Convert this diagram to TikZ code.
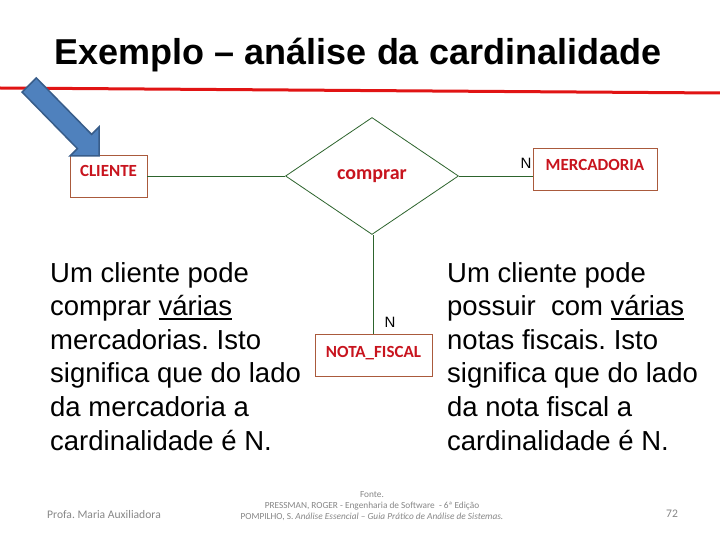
\documentclass[tikz,border=0pt]{standalone}
\usepackage{fontspec}
\setmainfont{Liberation Sans}
\newfontfamily\carl{Carlito}
\usetikzlibrary{shapes.geometric}
\definecolor{entred}{RGB}{200,20,30}
\definecolor{boxcol}{RGB}{170,90,60}
\definecolor{conncol}{RGB}{45,100,45}
\definecolor{linered}{RGB}{225,20,20}
\definecolor{arrfill}{RGB}{79,129,189}
\definecolor{arrdraw}{RGB}{56,93,138}
\definecolor{footgray}{RGB}{135,135,135}
\frenchspacing
\newcommand{\thickul}[1]{\setbox0\hbox{#1}\rlap{\rule[-3.8pt]{\wd0}{2pt}}\box0}
\tikzset{
  entity/.style={draw=boxcol, line width=0.9pt, fill=white, inner sep=0pt,
    minimum height=42pt, text=entred, font=\carl\bfseries\fontsize{17}{19}\selectfont,
    text height=11pt, text depth=9pt},
  rel/.style={diamond, draw=conncol, line width=0.8pt, inner sep=0pt,
    minimum width=173pt, minimum height=117pt, text=entred,
    font=\carl\bfseries\fontsize{20}{22}\selectfont},
  conn/.style={draw=conncol, line width=0.8pt},
  card/.style={inner sep=0pt, font=\fontsize{15}{17}\selectfont},
  body/.style={align=left, inner sep=0pt, anchor=north west, font=\fontsize{27.5}{33.6}\selectfont},
  foot/.style={text=footgray, inner sep=0pt, font=\carl\fontsize{11.6}{13}\selectfont},
  src/.style={text=footgray, inner sep=0pt, align=center, font=\carl\fontsize{9.3}{11}\selectfont}
}
\begin{document}
\begin{tikzpicture}[x=1pt,y=-1pt]
\useasboundingbox[fill=white] (0,0) rectangle (720,540);
% title
\node[anchor=base, inner sep=0pt, font=\bfseries\fontsize{36}{40}\selectfont] (title) at (358,65) {Exemplo – análise da cardinalidade};
% red rule
\coordinate (rl) at (0,88);
\coordinate (rr) at (720,93);
\draw[linered, line width=3pt] (rl) -- (rr);
% entities
\node[entity, minimum width=77pt] (cliente) at (108.5,176) {CLIENTE};
\node[entity, minimum width=124pt] (merc) at (595,169.5) {MERCADORIA};
\node[entity, minimum width=117pt, text depth=7pt, text height=11pt] (nota) at (373.5,355) {NOTA\_FISCAL};
\node[rel] (comprar) at (372,176) {comprar};
% connectors
\draw[conn] (cliente.east) -- (comprar.west);
\draw[conn] (comprar.east) -- (comprar.east -| merc.west);
\draw[conn] (nota.north) -- (nota.north |- comprar.south);
% cardinalities
\node[card] (n1) at (526,163) {N};
\node[card] (n2) at (390,322) {N};
% blue arrow
\draw[fill=arrfill, draw=arrdraw, line width=1.5pt, line join=miter]
  (36.3,77.9) -- (91.6,134.4) -- (99,127) -- (99,156) -- (70,156) -- (77.4,148.6) -- (22.1,92.1) -- cycle;
% body texts
\node[body] (ltext) at (50,262) {Um cliente pode\\comprar \thickul{várias}\\mercadorias. Isto\\significa que do lado\\da mercadoria a\\cardinalidade é N.};
\node[body] (rtext) at (447,262) {Um cliente pode\\possuir\ \ com \thickul{várias}\\notas fiscais. Isto\\significa que do lado\\da nota fiscal a\\cardinalidade é N.};
% footer
\node[foot] (autor) at (104,515) {Profa. Maria Auxiliadora};
\node[foot] (pag) at (672,514) {72};
\node[src] (fonte) at (372,506) {Fonte.\\PRESSMAN, ROGER - Engenharia de Software\ \ - 6ª Edição\\POMPILHO, S. \textit{Análise Essencial – Guia Prático de Análise de Sistemas.}};
\end{tikzpicture}
\end{document}
